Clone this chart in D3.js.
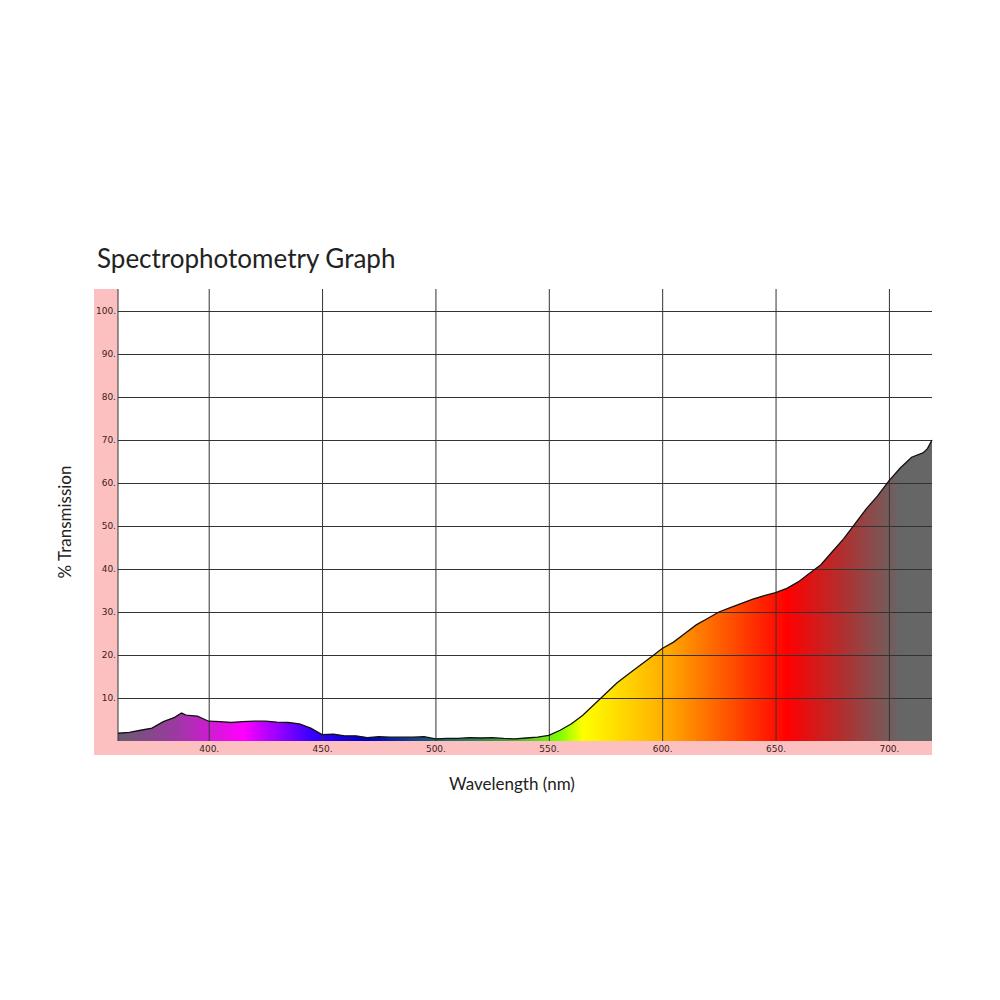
<!DOCTYPE html>
<html><head><meta charset="utf-8">
<script src="https://cdn.jsdelivr.net/npm/d3@7"></script>
<style>body{margin:0;background:#fff}</style>
</head><body><svg id="c" width="1000" height="1000"></svg>
<script>
// wavelength (nm) and % transmission
const wavelengths = [360,365,370,375,380,385,388,390,395,400,405,410,415,420,425,430,435,440,445,450,455,460,465,470,475,480,485,490,495,500,505,510,515,520,525,530,535,540,545,550,555,560,565,570,575,580,585,590,595,600,605,610,615,620,625,630,635,640,645,650,655,660,665,670,675,680,685,690,695,700,705,710,715,717,719];
const transmission = [1.8,2,2.5,3,4.5,5.5,6.5,6,5.8,4.6,4.5,4.3,4.5,4.6,4.6,4.4,4.3,4,3,1.5,1.6,1.2,1.2,0.8,1,0.9,0.9,0.9,1,0.5,0.6,0.6,0.8,0.7,0.8,0.6,0.5,0.7,0.9,1.3,2.5,4,6,8.5,11,13.5,15.5,17.5,19.5,21.5,23,25,27,28.5,30,31,32,33,33.8,34.5,35.5,37,39,41,44,47,50.5,54,57,60.5,63.5,66,67,68,70];
const xTicks = [400,450,500,550,600,650,700];
const yTicks = [10,20,30,40,50,60,70,80,90,100];
// colour of the fill along the spectrum
const stopNm = [360,385,415,445,470,500,530,555,565,600,630,655,680,705,720];
const stopColor = ["#6b5a70","#9a3aa0","#ff00ff","#3a00ff","#0000c0","#206070","#40a040","#80ff00","#ffff00","#ffb000","#ff5000","#ff0000","#b03030","#666666","#666666"];

const svg = d3.select("#c");
const pLeft = 118, pRight = 932, pTop = 289, pBottom = 741;
const x = d3.scaleLinear().domain([360,719]).range([pLeft,pRight]);
const y = d3.scaleLinear().domain([0,100]).range([pBottom,311]);

svg.append("text").attr("x",97).attr("y",268).text("Spectrophotometry Graph")
  .attr("font-family","Lato").attr("font-size",26).attr("fill","#222");

// pink frame
svg.append("rect").attr("x",94).attr("y",pTop).attr("width",pLeft-94).attr("height",755-pTop).attr("fill","#fcc0c0");
svg.append("rect").attr("x",94).attr("y",pBottom).attr("width",pRight-94).attr("height",755-pBottom).attr("fill","#fcc0c0");

const grad = svg.append("defs").append("linearGradient").attr("id","spec")
  .attr("gradientUnits","userSpaceOnUse").attr("x1",pLeft).attr("x2",pRight).attr("y1",0).attr("y2",0);
stopNm.forEach((n,i)=>grad.append("stop").attr("offset",Math.min(1,(x(n)-pLeft)/(pRight-pLeft))).attr("stop-color",stopColor[i]));

const data = wavelengths.map((w,i)=>({w,t:transmission[i]}));
svg.append("path").datum(data).attr("fill","url(#spec)")
  .attr("d",d3.area().x(d=>x(d.w)).y0(pBottom).y1(d=>y(d.t)));

// grid
svg.append("g").attr("transform",`translate(0,${pBottom})`)
  .call(d3.axisBottom(x).tickValues(xTicks).tickSize(-(pBottom-pTop)).tickFormat(d=>d+"."))
  .call(g=>{g.select(".domain").remove();
    g.selectAll("line").attr("stroke","#333").attr("stroke-width",1);
    g.selectAll("text").attr("dy",8).attr("font-family","DejaVu Sans").attr("font-size",9).attr("fill","#3a2020");});
svg.append("g").attr("transform",`translate(${pLeft},0)`)
  .call(d3.axisLeft(y).tickValues(yTicks).tickSize(-(pRight-pLeft)).tickFormat(d=>d+"."))
  .call(g=>{g.select(".domain").remove();
    g.selectAll("line").attr("stroke","#333").attr("stroke-width",1);
    g.selectAll("text").attr("x",-2).attr("font-family","DejaVu Sans").attr("font-size",9).attr("fill","#3a2020");});
svg.append("line").attr("x1",pLeft).attr("x2",pLeft).attr("y1",pTop).attr("y2",pBottom).attr("stroke","#333");

svg.append("path").datum(data).attr("fill","none").attr("stroke","#111").attr("stroke-width",1.3)
  .attr("d",d3.line().x(d=>x(d.w)).y(d=>y(d.t)));

svg.append("text").attr("x",512).attr("y",790).attr("text-anchor","middle").text("Wavelength (nm)")
  .attr("font-family","Lato").attr("font-size",17).attr("fill","#222");
svg.append("text").attr("transform","translate(71,522) rotate(-90)").attr("text-anchor","middle").text("% Transmission")
  .attr("font-family","Lato").attr("font-size",17).attr("fill","#222");
</script></body></html>
